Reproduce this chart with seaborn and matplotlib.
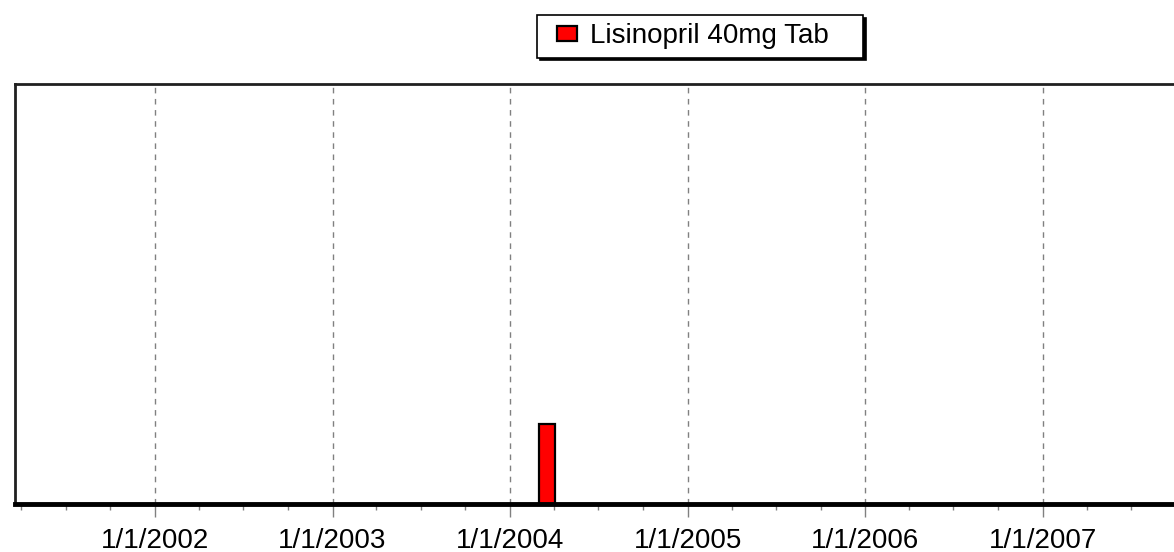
import datetime as dt
import matplotlib
matplotlib.use("Agg")
import matplotlib.pyplot as plt
import matplotlib.dates as mdates
from matplotlib.container import BarContainer
from matplotlib.legend_handler import HandlerPatch, update_from_first_child
from matplotlib.ticker import FuncFormatter
import seaborn as sns

sns.set_theme(style="white")
plt.rcParams['font.family'] = ['Liberation Sans', 'DejaVu Sans']

# data
drug = "Lisinopril 40mg Tab"
fill_dates = [dt.date(2004, 3, 17)]
fill_values = [1.0]
supply_days = [33]

fig = plt.figure(figsize=(11.74, 5.52), dpi=100)
# plot area runs past the right edge like in the original
ax = fig.add_axes([15 / 1174, 48 / 552, 1165 / 1174, 420 / 552])

ax.bar(fill_dates, fill_values, width=supply_days, color="#ff0000",
       edgecolor="black", linewidth=1.6, label=drug, zorder=3)

ax.set_xlim(dt.date(2001, 3, 19), dt.date(2007, 10, 10))
ax.set_ylim(0, 5.25)
ax.set_yticks([])

ax.xaxis.set_major_locator(mdates.YearLocator())
ax.xaxis.set_minor_locator(mdates.MonthLocator(bymonth=[1, 4, 7, 10]))
ax.xaxis.set_major_formatter(FuncFormatter(
    lambda v, p: "{0.month}/{0.day}/{0.year}".format(mdates.num2date(v))))
ax.tick_params(axis="x", which="major", length=9, width=1, color="#808080",
               labelsize=20, labelcolor="black", pad=8, bottom=True)
ax.tick_params(axis="x", which="minor", length=4.5, width=1, color="#808080",
               bottom=True)

ax.grid(axis="x", which="major", color="#808080", linestyle=(0, (4, 4)),
        linewidth=1)

for side in ["top", "left", "right"]:
    ax.spines[side].set_color("#202020")
    ax.spines[side].set_linewidth(2)
ax.spines["bottom"].set_color("black")
ax.spines["bottom"].set_linewidth(3.5)
ax.spines["bottom"].set_zorder(4)

# legend box spans x 537..863, top at y 15 (pixels)
leg = fig.legend(loc="upper left",
                 bbox_to_anchor=(537 / 1174, 0, 326 / 1174, 1 - 15 / 552),
                 mode="expand",
                 handler_map={BarContainer: HandlerPatch(
                     xpad=0.43, update_func=update_from_first_child)},
                 fontsize=20, frameon=True, fancybox=False,
                 shadow={"color": "black", "alpha": 1},
                 edgecolor="black", handlelength=1.15, handleheight=0.5,
                 handletextpad=0.47, borderpad=0.3, borderaxespad=0)
leg.get_frame().set_linewidth(1.2)
for t in leg.get_texts():
    t.set_color("black")

fig.savefig("out.png", dpi=100)
